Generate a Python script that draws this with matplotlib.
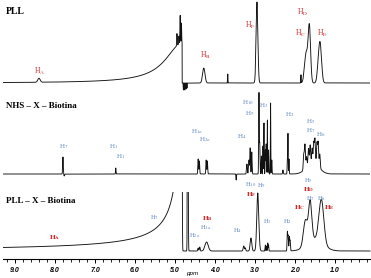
import numpy as np
import matplotlib
matplotlib.use("Agg")
import matplotlib.pyplot as plt
from matplotlib.patches import Rectangle

# ---------------- data (peak lists) ----------------
# PLL spectrum: ppm, height, width(sigma, ppm)
pll_ppm = [8.40, 4.95, 4.90, 4.87, 4.84, 4.79, 4.755, 4.725, 4.70,
           4.28, 3.68, 2.95, 1.85, 1.72, 1.64, 1.42, 1.37]
pll_h   = [4, 12, 8, 28, 20, -7, -7, -6, -5,
           15, 9, 81, 8, 30, 55, 12, 38]
pll_w   = [0.03, 0.006, 0.006, 0.006, 0.006, 0.003, 0.003, 0.003, 0.003,
           0.03, 0.004, 0.022, 0.004, 0.04, 0.03, 0.03, 0.035]
pll_bg = dict(center=4.82, amp=40.0, width=0.5, power=2.0)

# NHS-X-Biotina spectrum
nhs_ppm = [7.80, 7.77, 6.48, 4.42, 4.39, 4.22, 4.19, 3.47,
           3.20, 3.15, 3.12, 3.08, 2.90, 2.88,
           2.84, 2.80, 2.775, 2.74, 2.72, 2.69, 2.66, 2.61, 2.58,
           2.30, 2.19, 2.175, 2.15,
           1.78, 1.75, 1.71, 1.66, 1.62, 1.57, 1.53, 1.50, 1.45, 1.42, 1.38, 1.56]
nhs_h   = [17, -2, 6, 15, 13, 14, 13, -6,
           10, 14, 26, 22, 81, 30,
           18, 28, 51, 24, 30, 54, 24, 71, 14,
           4, 15, 40, 15,
           16, 24, 10, 16, 18, 14, 20, 24, 22, 24, 14, 12]
nhs_w   = [0.008, 0.01, 0.006, 0.008, 0.008, 0.008, 0.008, 0.006,
           0.01, 0.01, 0.008, 0.008, 0.007, 0.007,
           0.006, 0.006, 0.005, 0.006, 0.006, 0.005, 0.006, 0.005, 0.006,
           0.008, 0.006, 0.005, 0.006,
           0.012, 0.012, 0.012, 0.012, 0.012, 0.012, 0.012, 0.012, 0.012, 0.012, 0.012, 0.15]

# PLL-X-Biotina spectrum
plx_ppm = [5.00, 4.95, 4.90, 4.86, 4.83, 4.68,
           4.42, 4.38, 4.21, 3.28, 3.24, 3.10, 2.93,
           2.74, 2.71, 2.68, 2.66, 2.19, 2.17, 2.14, 2.12,
           1.74, 1.62, 1.34, 1.50]
plx_h   = [200, 200, 200, 200, 300, 300,
           3, 4, 9, 5, 3, 13, 58,
           6, 5, 8, 6, 19, 15, 14, 10,
           25, 40, 43, 12]
plx_w   = [0.008, 0.008, 0.008, 0.008, 0.008, 0.008,
           0.01, 0.01, 0.04, 0.015, 0.01, 0.02, 0.025,
           0.006, 0.006, 0.006, 0.006, 0.008, 0.008, 0.008, 0.008,
           0.05, 0.04, 0.06, 0.2]
plx_bg = dict(center=4.82, amp=366.0, width=0.0437, power=1.0)

major_ticks = [9.0, 8.0, 7.0, 6.0, 5.0, 4.0, 3.0, 2.0, 1.0]
tick_labels = ["9.0", "8.0", "7.0", "6.0", "5.0", "4.0", "3.0", "2.0", "1.0"]

# ---------------- drawing ----------------
W, H = 371, 278
fig = plt.figure(figsize=(W / 100, H / 100), dpi=100)
AX_TOP_PX = 0
AX_BOT_PX = 259
ax = fig.add_axes([3 / W, (H - AX_BOT_PX) / H, 367 / W, (AX_BOT_PX - AX_TOP_PX) / H])
ax.set_xlim(9.3, 0.125)
ax.set_ylim(0, AX_BOT_PX - AX_TOP_PX)

x = np.linspace(0.125, 9.3, 30000)


def spectrum(ppm, h, w, bg=None):
    y = np.zeros_like(x)
    for p, a, s in zip(ppm, h, w):
        y += a * np.exp(-0.5 * ((x - p) / s) ** 2)
    if bg is not None:
        d = x - bg["center"]
        side = d >= 0
        y[side] += bg["amp"] / (1 + (d[side] / bg["width"]) ** bg["power"])
    return y


def yb(py):  # pixel row -> axes data y
    return AX_BOT_PX - py


lw = 0.65
col = "#111111"
ax.plot(x, yb(83) + spectrum(pll_ppm, pll_h, pll_w, pll_bg), color=col, lw=lw)
ax.plot(x, yb(174) + spectrum(nhs_ppm, nhs_h, nhs_w), color=col, lw=lw)
line, = ax.plot(x, yb(251) + spectrum(plx_ppm, plx_h, plx_w, plx_bg), color=col, lw=lw)
clip = Rectangle((9.3, 0), -9.3, yb(192), transform=ax.transData, facecolor="none", edgecolor="none")
ax.add_patch(clip)
line.set_clip_path(clip)

for s in ["top", "left", "right"]:
    ax.spines[s].set_visible(False)
ax.spines["bottom"].set_linewidth(0.8)
ax.set_yticks([])
ax.set_xticks(major_ticks)
ax.set_xticklabels(tick_labels, fontsize=5, fontweight="bold", fontstyle="italic",
                   family="Liberation Sans")
ax.set_xticks(np.arange(0.2, 9.3, 0.2), minor=True)
ax.tick_params(axis="x", which="major", length=3, width=0.7, pad=2.5)
ax.tick_params(axis="x", which="minor", length=1.8, width=0.6)

plt.rcParams["mathtext.fontset"] = "stix"

RED = "#d42a2a"
BLUE = "#5a86c0"


def T(px, py, s, color="black", size=5.5, **kw):
    fig.text(px / W, 1 - py / H, s, color=color, fontsize=size, ha="center", va="center",
             family="Liberation Serif", **kw)


# titles
fig.text(6 / W, 1 - 12 / H, "PLL", fontsize=7, fontweight="bold", family="Liberation Serif",
         ha="left", va="center")
fig.text(6 / W, 1 - 106 / H, "NHS – X – Biotina", fontsize=6.5, fontweight="bold",
         family="Liberation Serif", ha="left", va="center")
fig.text(6 / W, 1 - 201 / H, "PLL – X – Biotina", fontsize=6.5, fontweight="bold",
         family="Liberation Serif", ha="left", va="center")
fig.text(192 / W, 1 - 273 / H, "ppm", fontsize=4.5, fontstyle="italic", family="Liberation Sans",
         ha="center", va="center")

# top labels (red)
for px_, py_, s in [(40, 71, "A"), (205, 55, "B"), (250, 25, "F"), (303, 12, "D"),
                    (301, 33, "C"), (322, 33, "E")]:
    T(px_, py_, r"H$_{\mathrm{" + s + "}}$", RED)

# middle labels (blue)
for px_, py_, s in [(64, 147, "7"), (114, 147, "1"), (121, 157, "1"), (197, 132, "1a"),
                    (205, 140, "2a"), (242, 137, "4"), (248, 103, "10"), (250, 113, "9"),
                    (264, 106, "3"), (290, 115, "2"), (311, 122, "5"), (311, 131, "7"),
                    (321, 135, "6")]:
    T(px_, py_, r"H$_{" + s + "}$", BLUE, size=5)

# bottom labels
for px_, py_, s in [(155, 218, "7"), (206, 228, "1a"), (195, 236, "2a"), (238, 231, "4"),
                    (251, 185, "10"), (262, 185, "9"), (267, 222, "3"), (288, 222, "2"),
                    (308, 181, "5"), (311, 199, "7"), (322, 199, "6")]:
    T(px_, py_, r"H$_{" + s + "}$", BLUE, size=4.8)
for px_, py_, s in [(55, 238, "A"), (207, 219, "B"), (251, 195, "F"), (309, 190, "D"),
                    (300, 208, "C"), (330, 208, "E")]:
    T(px_, py_, r"$\mathbf{H_{" + s + "}}$", RED, size=5.3)

fig.savefig("out.png", dpi=100)
